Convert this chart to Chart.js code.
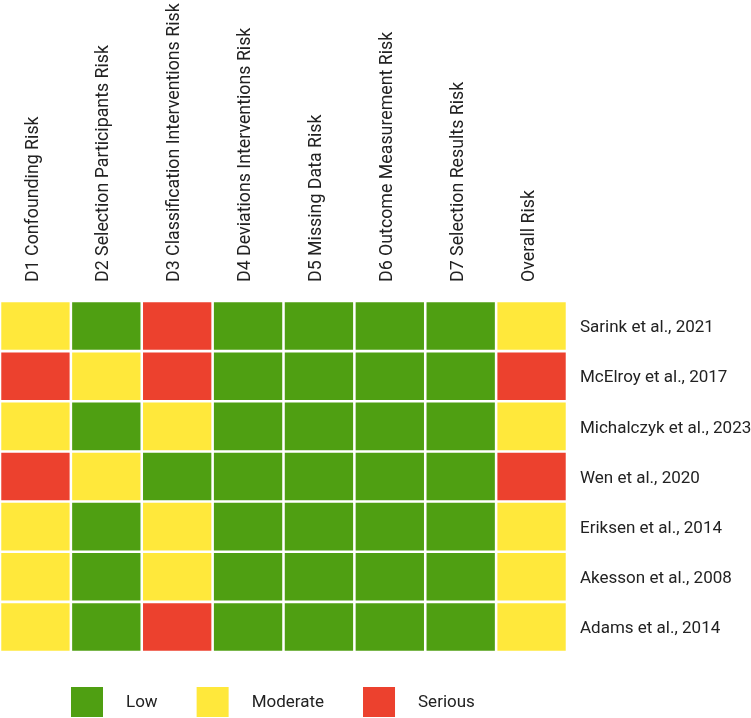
<!DOCTYPE html>
<html>
<head>
<meta charset="utf-8">
<script src="https://cdn.jsdelivr.net/npm/chart.js@4.4.1/dist/chart.umd.min.js"></script>
<style>
  html, body { margin: 0; padding: 0; background: #ffffff; }
  #wrap { width: 751px; height: 718px; position: relative; }
</style>
</head>
<body>
<div id="wrap"><canvas id="c" width="751" height="718"></canvas></div>
<script>
// ---- data ----
const domains = [
  'D1 Confounding Risk',
  'D2 Selection Participants Risk',
  'D3 Classification Interventions Risk',
  'D4 Deviations Interventions Risk',
  'D5 Missing Data Risk',
  'D6 Outcome Measurement Risk',
  'D7 Selection Results Risk',
  'Overall Risk'
];
const studies = [
  'Sarink et al., 2021',
  'McElroy et al., 2017',
  'Michalczyk et al., 2023',
  'Wen et al., 2020',
  'Eriksen et al., 2014',
  'Akesson et al., 2008',
  'Adams et al., 2014'
];
// risk judgement per domain, in study order
const d1Risk = ['Moderate','Serious','Moderate','Serious','Moderate','Moderate','Moderate'];
const d2Risk = ['Low','Moderate','Low','Moderate','Low','Low','Low'];
const d3Risk = ['Serious','Serious','Moderate','Low','Moderate','Moderate','Serious'];
const d4Risk = ['Low','Low','Low','Low','Low','Low','Low'];
const d5Risk = ['Low','Low','Low','Low','Low','Low','Low'];
const d6Risk = ['Low','Low','Low','Low','Low','Low','Low'];
const d7Risk = ['Low','Low','Low','Low','Low','Low','Low'];
const overallRisk = ['Moderate','Serious','Moderate','Serious','Moderate','Moderate','Moderate'];
const riskLevels = ['Low','Moderate','Serious'];
const riskColors = { Low: '#4f9f12', Moderate: '#ffe83b', Serious: '#ec412e' };

const riskByDomain = [d1Risk, d2Risk, d3Risk, d4Risk, d5Risk, d6Risk, d7Risk, overallRisk];

const FONT = 'Roboto, "Noto Sans", sans-serif';
const TEXT = '#222222';

const datasets = studies.map((s, i) => ({
  label: s,
  data: domains.map(() => [i, i + 1]),
  backgroundColor: domains.map((d, j) => riskColors[riskByDomain[j][i]]),
  borderColor: '#ffffff',
  borderWidth: 1.6,
  borderSkipped: false,
  categoryPercentage: 1,
  barPercentage: 1,
  grouped: false
}));

const legendPlugin = {
  id: 'riskLegend',
  afterDraw(chart) {
    const ctx = chart.ctx;
    const ca = chart.chartArea;
    ctx.save();
    ctx.font = '17px ' + FONT;
    ctx.textBaseline = 'middle';
    ctx.textAlign = 'left';
    let x = ca.left + 70;
    const top = ca.bottom + 34;
    const bw = 34, bh = 32;
    riskLevels.forEach(l => {
      ctx.fillStyle = '#ffffff';
      ctx.fillRect(x, top, bw, bh);
      ctx.fillStyle = riskColors[l];
      ctx.fillRect(x + 1, top + 1, bw - 2, bh - 2);
      ctx.fillStyle = TEXT;
      const tx = x + bw + 22;
      ctx.fillText(l, tx, top + bh / 2 + 1);
      x = tx + ctx.measureText(l).width + 38;
    });
    ctx.restore();
  }
};

new Chart(document.getElementById('c'), {
  type: 'bar',
  data: { labels: domains, datasets },
  options: {
    responsive: false,
    animation: false,
    layout: { padding: { left: 0, right: 0, top: 0, bottom: 66 } },
    plugins: { legend: { display: false }, tooltip: { enabled: false } },
    scales: {
      x: {
        type: 'category',
        position: 'top',
        offset: true,
        grid: { display: false, drawTicks: false },
        border: { display: false },
        ticks: {
          maxRotation: 90, minRotation: 90, autoSkip: false,
          padding: 19, labelOffset: 19, color: TEXT, font: { family: FONT, size: 17.8 }
        },
        afterFit(scale) {
          scale.height = 301;
          scale.paddingLeft = 0;
          scale.paddingRight = 0;
        }
      },
      y: {
        type: 'linear',
        min: 0, max: studies.length,
        reverse: true,
        display: false
      },
      y2: {
        type: 'category',
        axis: 'y',
        labels: studies,
        position: 'right',
        offset: true,
        grid: { display: false, drawTicks: false },
        border: { display: false },
        ticks: { padding: 13, labelOffset: 2, color: TEXT, font: { family: FONT, size: 17 }, autoSkip: false },
        afterFit(scale) {
          scale.width = 184;
          scale.paddingTop = 0;
          scale.paddingBottom = 0;
        }
      }
    }
  },
  plugins: [legendPlugin]
});
</script>
</body>
</html>
